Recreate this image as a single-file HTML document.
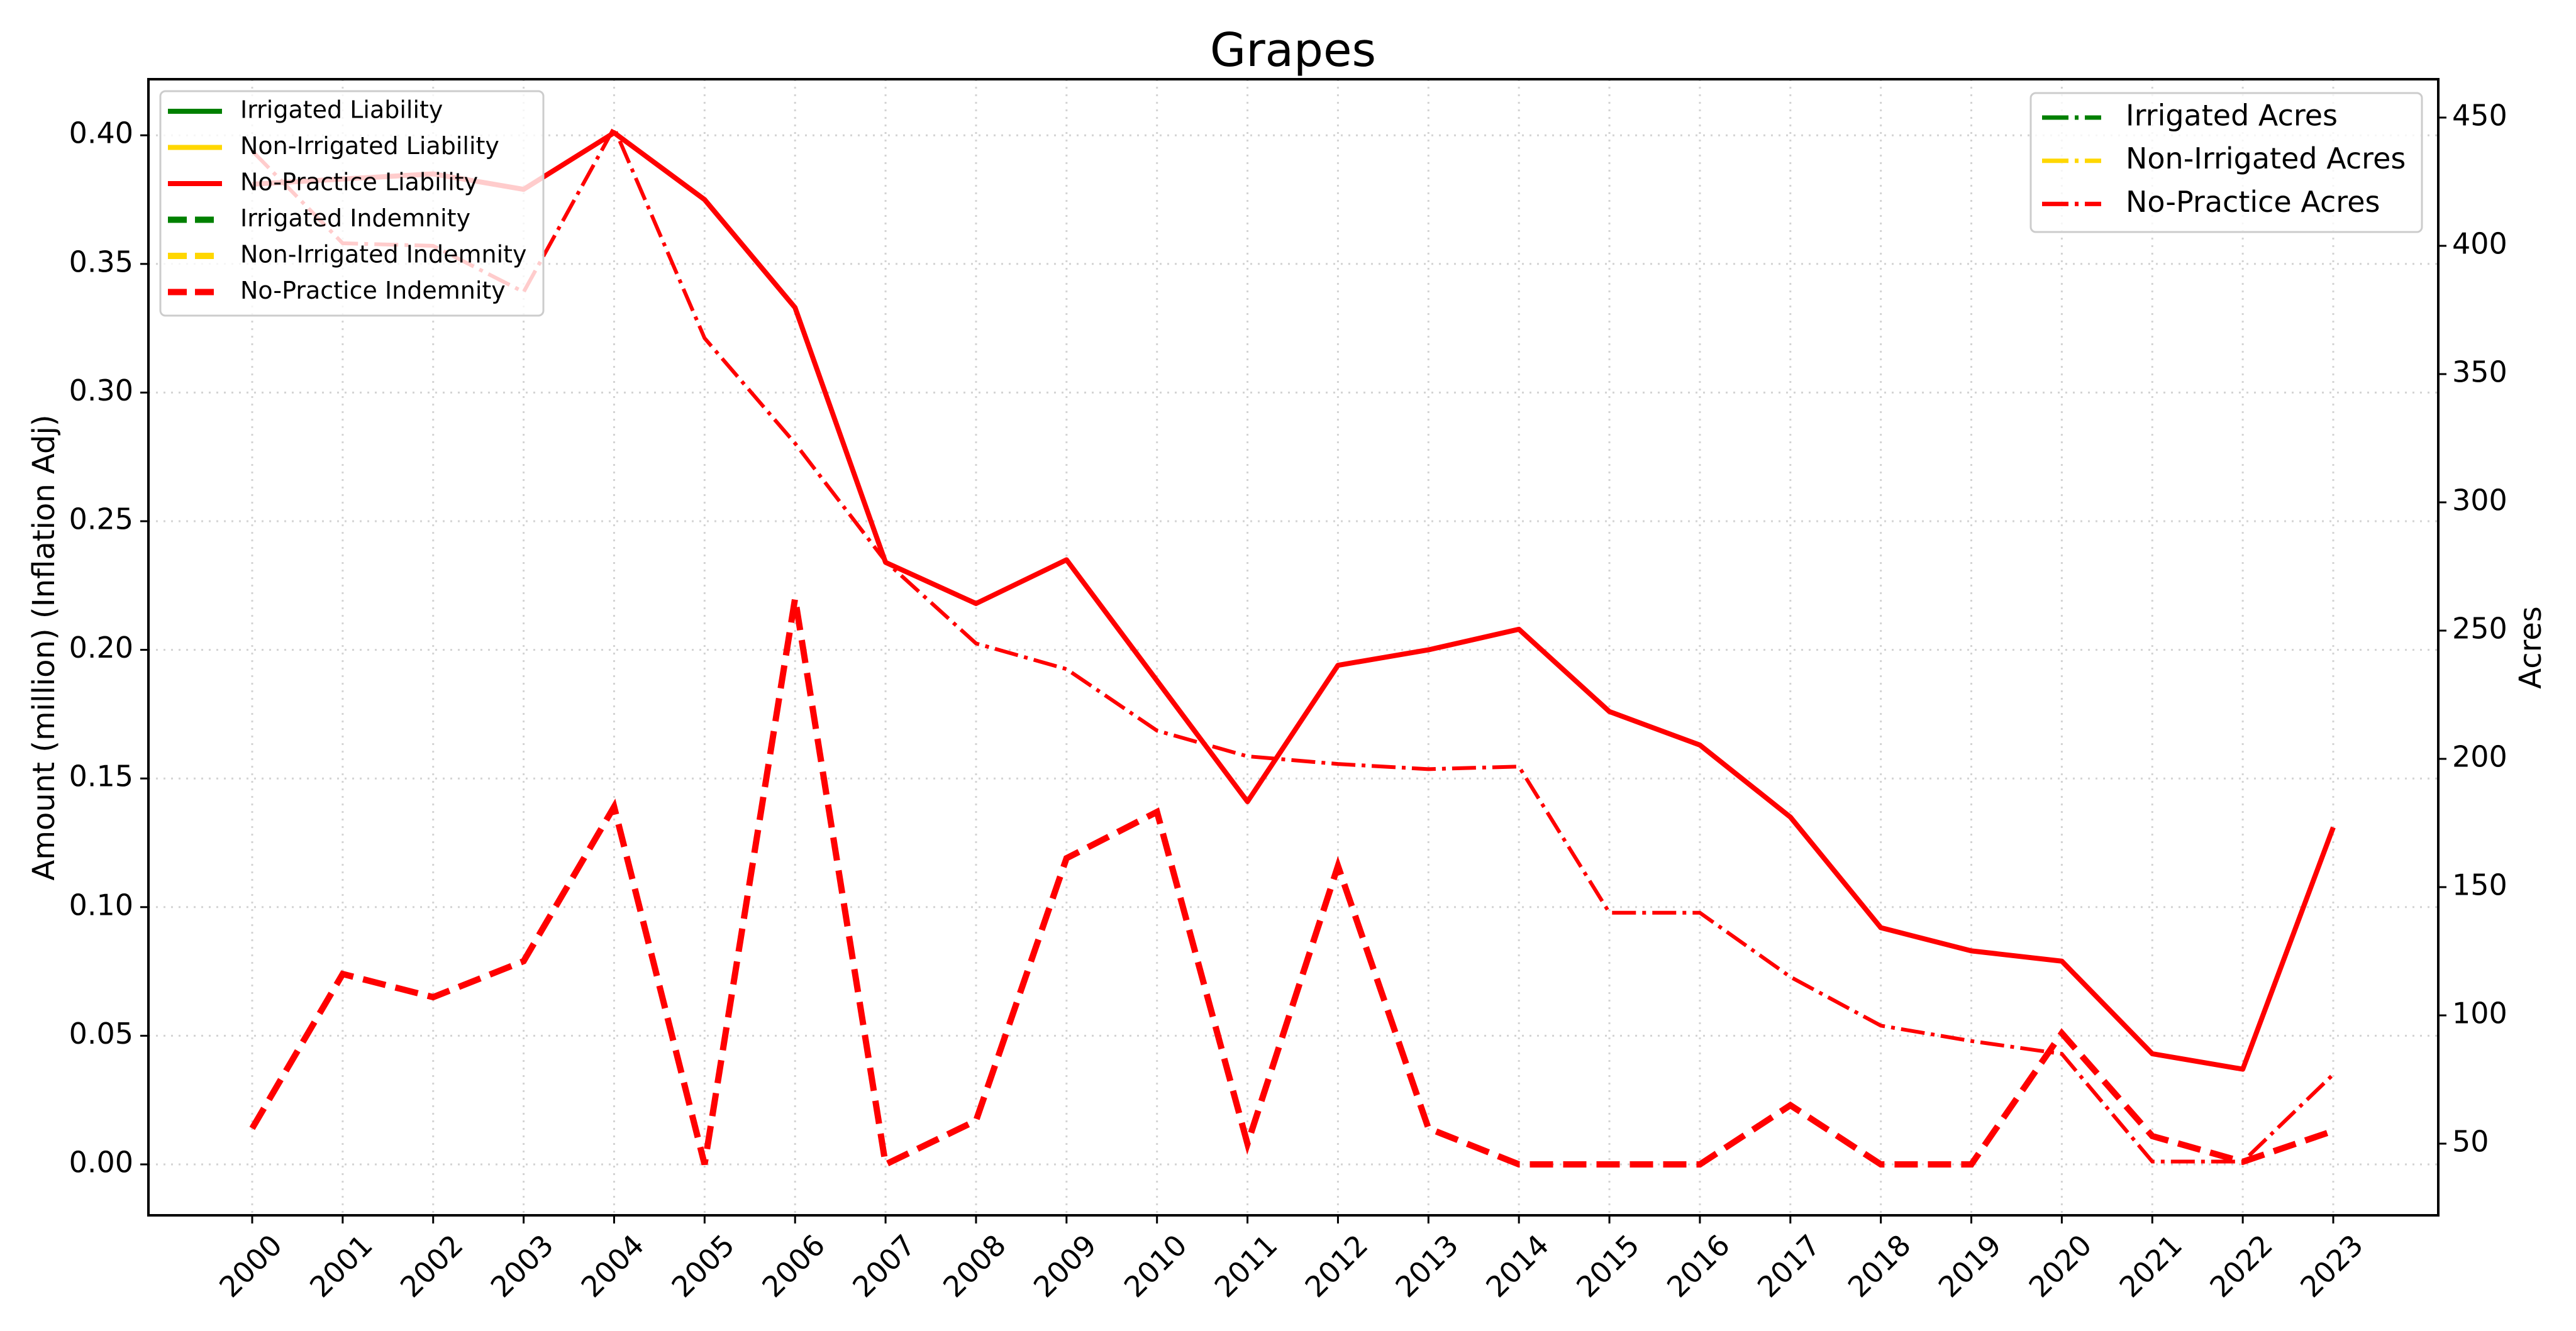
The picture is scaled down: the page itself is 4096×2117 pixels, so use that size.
<!DOCTYPE html>
<html><head><meta charset="utf-8"><style>
html,body{margin:0;padding:0;background:#fff;}
svg{display:block;font-family:"DejaVu Sans","Liberation Sans",sans-serif;}
</style></head><body>
<svg id="chart" width="4096" height="2117" viewBox="0 0 4096 2117" xmlns="http://www.w3.org/2000/svg">
<rect width="4096" height="2117" fill="#fff"/>
<g id="grid"></g>
<g id="series"></g>
<rect x="236" y="126" width="3641" height="1807" fill="none" stroke="#000" stroke-width="4"/>
<g id="axes"></g>
<text x="2056" y="105" font-size="74" text-anchor="middle">Grapes</text>
<text transform="translate(86,1030) rotate(-90)" font-size="48" text-anchor="middle">Amount (million) (Inflation Adj)</text>
<text transform="translate(4040,1030) rotate(-90)" font-size="48" text-anchor="middle">Acres</text>
<g id="legend-left">
<rect x="255" y="145" width="609" height="357" rx="8" fill="#fff" fill-opacity="0.8" stroke="#ccc" stroke-width="3"/>
</g>
<g id="legend-right">
<rect x="3229" y="148" width="622" height="221" rx="8" fill="#fff" fill-opacity="0.8" stroke="#ccc" stroke-width="3"/>
</g>
</svg>
<script>
const years = [2000,2001,2002,2003,2004,2005,2006,2007,2008,2009,2010,2011,2012,2013,2014,2015,2016,2017,2018,2019,2020,2021,2022,2023];
const liability = [0.381,0.383,0.385,0.379,0.401,0.375,0.333,0.234,0.218,0.235,0.188,0.141,0.194,0.200,0.208,0.176,0.163,0.135,0.092,0.083,0.079,0.043,0.037,0.131];
const indemnity = [0.014,0.074,0.065,0.079,0.139,0.0,0.220,0.0,0.017,0.119,0.137,0.008,0.116,0.014,0.0,0.0,0.0,0.023,0.0,0.0,0.051,0.011,0.001,0.013];
const acres = [437,401,400,382,446,364,323,277,245,235,211,201,198,196,197,140,140,115,96,90,85,43,43,77];
const leftTicks = ["0.00","0.05","0.10","0.15","0.20","0.25","0.30","0.35","0.40"];
const rightTicks = ["50","100","150","200","250","300","350","400","450"];
const leftLegend = ["Irrigated Liability","Non-Irrigated Liability","No-Practice Liability","Irrigated Indemnity","Non-Irrigated Indemnity","No-Practice Indemnity"];
const rightLegend = ["Irrigated Acres","Non-Irrigated Acres","No-Practice Acres"];

const NS="http://www.w3.org/2000/svg";
const X0=236,X1=3877,Y0=126,Y1=1933;
function xs(y){return 401+(y-2000)*143.87;}
function yl(v){return 1852-v*4092;}
function yr(v){return 1819-(v-50)*4.08;}
function mk(tag,attrs,parent){const e=document.createElementNS(NS,tag);for(const k in attrs)e.setAttribute(k,attrs[k]);parent.appendChild(e);return e;}
const grid=document.getElementById('grid'),axes=document.getElementById('axes'),series=document.getElementById('series');

years.forEach(y=>{
  const x=xs(y);
  const g=mk('line',{x1:x,x2:x,y1:Y0,y2:Y1,stroke:'#d3d3d3','stroke-width':3,'stroke-dasharray':'3,9'},grid);
  
  
  const t=mk('line',{x1:x,x2:x,y1:Y1,y2:Y1+13,stroke:'#000','stroke-width':3},axes);
  
  
  const l=mk('text',{transform:`translate(${x},2016) rotate(-45)`,'font-size':46,'text-anchor':'middle','dominant-baseline':'middle'},axes);
  l.textContent=y;
  
  
});
leftTicks.forEach(s=>{
  const y=yl(parseFloat(s));
  const g=mk('line',{x1:X0,x2:X1,y1:y,y2:y,stroke:'#d3d3d3','stroke-width':3,'stroke-dasharray':'3,9'},grid);
  
  
  const t=mk('line',{x1:X0-13,x2:X0,y1:y,y2:y,stroke:'#000','stroke-width':3},axes);
  
  
  const l=mk('text',{x:X0-24,y:y,'font-size':46,'text-anchor':'end','dominant-baseline':'middle'},axes);
  l.textContent=s;
  
  
});
rightTicks.forEach(s=>{
  const y=yr(parseFloat(s));
  const t=mk('line',{x1:X1,x2:X1+13,y1:y,y2:y,stroke:'#000','stroke-width':3},axes);
  
  
  const l=mk('text',{x:X1+22,y:y,'font-size':46,'text-anchor':'start','dominant-baseline':'middle'},axes);
  l.textContent=s;
  
  
});
function pts(arr,f){return arr.map((v,i)=>xs(years[i])+','+f(v)).join(' ');}
const pa=mk('polyline',{points:pts(acres,yr),fill:'none',stroke:'#ff0000','stroke-width':6,'stroke-dasharray':'38,10,6,10'},series);


const pl=mk('polyline',{points:pts(liability,yl),fill:'none',stroke:'#ff0000','stroke-width':8,'stroke-linejoin':'round'},series);


const pi=mk('polyline',{points:pts(indemnity,yl),fill:'none',stroke:'#ff0000','stroke-width':10,'stroke-dasharray':'37,16'},series);



const colors=['#008000','#ffd700','#ff0000'];
const lg=document.getElementById('legend-left');
leftLegend.forEach((s,i)=>{
  const y=177+i*57.5;
  const dashed=i>=3;
  const h=mk('line',{x1:267,x2:353,y1:y,y2:y,stroke:colors[i%3],'stroke-width':dashed?10:8,'stroke-dasharray':dashed?'30,13':'none'},lg);
  
  
  const t=mk('text',{x:382,y:y,'font-size':38,'dominant-baseline':'middle'},lg);
  t.textContent=s;
  
  
});
const rg=document.getElementById('legend-right');
rightLegend.forEach((s,i)=>{
  const y=187+i*68.7;
  const h=mk('line',{x1:3247,x2:3341,y1:y,y2:y,stroke:colors[i],'stroke-width':7,'stroke-dasharray':'42,10,6,10'},rg);
  
  
  const t=mk('text',{x:3380,y:y,'font-size':46,'dominant-baseline':'middle'},rg);
  t.textContent=s;
  
  
});
</script>
</body></html>
